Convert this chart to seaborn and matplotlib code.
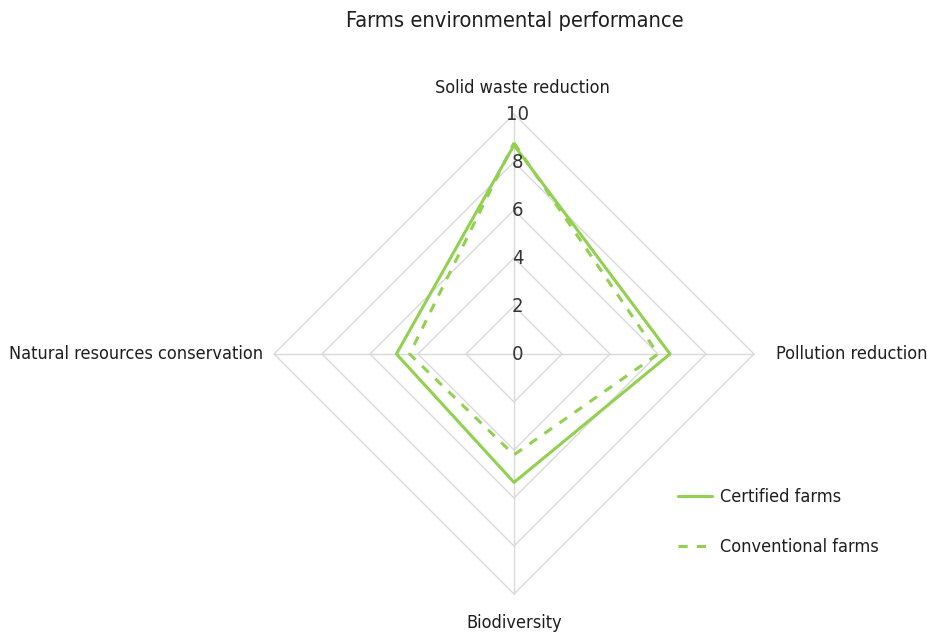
import numpy as np
import pandas as pd
import matplotlib
matplotlib.use('Agg')
import matplotlib.pyplot as plt
import seaborn as sns

# data
categories = ['Solid waste reduction', 'Pollution reduction', 'Biodiversity',
              'Natural resources conservation']
certified = [8.7, 6.5, 5.35, 4.9]
conventional = [8.8, 6.0, 4.2, 4.35]
series_names = ['Certified farms', 'Conventional farms']
ring_values = [0, 2, 4, 6, 8, 10]
r_max = 10

green = '#92d050'
grid_col = '#d9d9d9'
text_col = '#1e1e1e'

sns.set_theme(style='white')
plt.rcParams['font.family'] = ['DejaVu Sans']
plt.rcParams['font.stretch'] = 'condensed'

# angles measured clockwise from the top
angles = np.arange(len(categories)) * 2 * np.pi / len(categories)


def to_xy(values):
    v = np.asarray(values, dtype=float)
    return v * np.sin(angles), v * np.cos(angles)


rows = []
for name, vals in zip(series_names, [certified, conventional]):
    xs, ys = to_xy(vals)
    xs = np.append(xs, xs[0])
    ys = np.append(ys, ys[0])
    for k, (x, y) in enumerate(zip(xs, ys)):
        rows.append({'series': name, 'order': k, 'x': x, 'y': y})
df = pd.DataFrame(rows)

fig = plt.figure(figsize=(9.35, 6.37), dpi=100)
W, H = 935, 637
cx, cy, rad = 514, 354, 240
ax = fig.add_axes([(cx - rad) / W, (H - cy - rad) / H, 2 * rad / W, 2 * rad / H])
ax.set_xlim(-r_max, r_max)
ax.set_ylim(-r_max, r_max)
ax.set_axis_off()

# diamond grid
for rv in ring_values[1:]:
    gx, gy = to_xy([rv] * len(categories))
    ax.plot(np.append(gx, gx[0]), np.append(gy, gy[0]), color=grid_col,
            lw=1.0, zorder=1, clip_on=False)
# spokes
for a in angles:
    ax.plot([0, r_max * np.sin(a)], [0, r_max * np.cos(a)], color=grid_col,
            lw=1.0, zorder=1, clip_on=False)

sns.lineplot(data=df, x='x', y='y', hue='series', style='series', sort=False,
             estimator=None, units='series',
             palette={series_names[0]: green, series_names[1]: green},
             dashes={series_names[0]: '', series_names[1]: (3, 3)},
             lw=2.2, ax=ax, legend=True, zorder=3)
for line in ax.lines:
    line.set_clip_on(False)

fs = 13
# ring value labels along the top spoke
for rv in ring_values:
    ax.text(0.15, rv, f'{rv}', ha='center', va='center', fontsize=14.5,
            color='#333333', zorder=4)

# category labels
ax.text(0.35, r_max + 1.1, categories[0], ha='center', va='center',
        fontsize=fs, color=text_col)
ax.text(r_max + 0.9, 0, categories[1], ha='left', va='center',
        fontsize=fs, color=text_col)
ax.text(0, -r_max - 1.2, categories[2], ha='center', va='center',
        fontsize=fs, color=text_col)
ax.text(-r_max - 0.45, 0, categories[3], ha='right', va='center',
        fontsize=fs, color=text_col)

handles, labels = ax.get_legend_handles_labels()
ax.get_legend().remove()
fig.legend(handles, labels, loc='upper left', bbox_to_anchor=(662 / W, 1 - 472 / H),
           frameon=False, fontsize=fs, labelspacing=1.75, handlelength=1.85,
           handletextpad=0.45, labelcolor=text_col)

fig.suptitle('Farms environmental performance', x=515 / W, y=1 - 11 / H,
             va='top', fontsize=15.7, color=text_col)

fig.savefig('out.png', dpi=100)
